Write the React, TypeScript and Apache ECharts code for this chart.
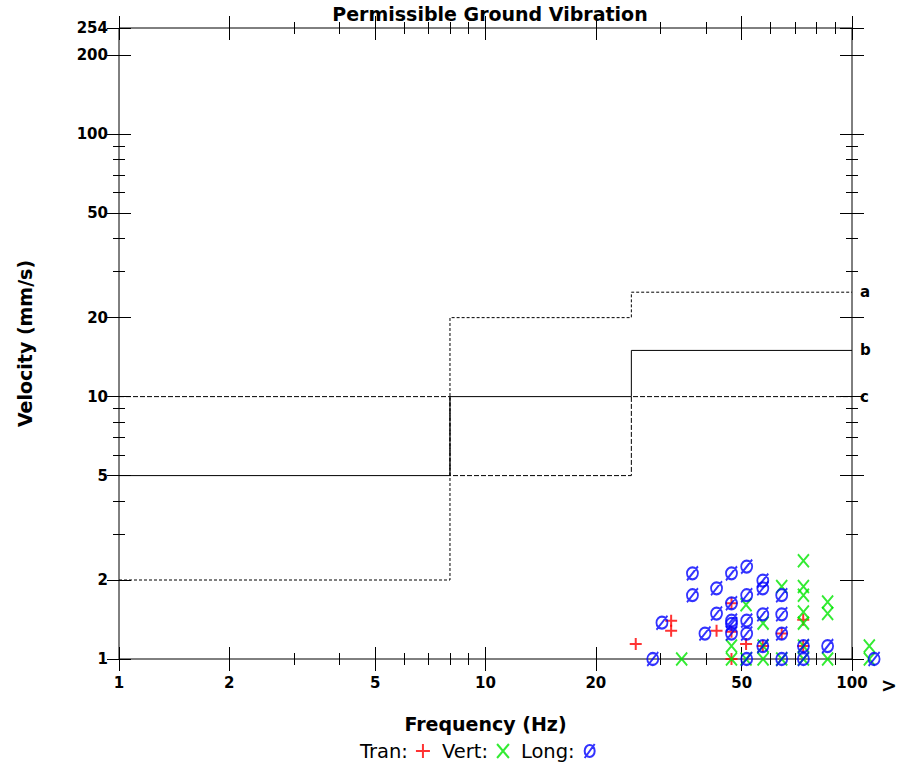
import React, { useEffect, useRef } from 'react';
import * as echarts from 'echarts';

const FONT = '"DejaVu Sans", "Liberation Sans", sans-serif';

const chartTitle = 'Permissible Ground Vibration';
const xName = 'Frequency (Hz)';
const yName = 'Velocity (mm/s)';

const xMajorTicks = [1, 2, 5, 10, 20, 50, 100];
const xMinorTicks = [3, 4, 6, 7, 8, 9, 30, 40, 60, 70, 80, 90];
const yMajorTicks = [1, 2, 5, 10, 20, 50, 100, 200, 254];
const yMinorTicks = [3, 4, 6, 7, 8, 9, 30, 40, 60, 70, 80, 90];

const curveA = [[1, 2], [8, 2], [8, 20], [25, 20], [25, 25], [100, 25]];
const curveB = [[1, 5], [8, 5], [8, 10], [25, 10], [25, 15], [100, 15]];
const curveC = [[1, 10], [8, 10], [8, 5], [25, 5], [25, 10], [100, 10]];
const overflowBand = [[100, 1], [118, 1]];

const tranPoints = [
  [25.7, 1.14], [32.1, 1.4], [32.1, 1.28], [42.7, 1.28], [46.9, 1.63], [46.9, 1.27],
  [46.9, 1.0], [51.4, 1.14], [57.1, 1.12], [64.3, 1.25], [73.6, 1.41], [73.6, 1.12],
];
const vertPoints = [
  [34.3, 1.0], [46.9, 1.12], [46.9, 1.0], [51.4, 1.61], [51.4, 1.0], [57.2, 1.37],
  [57.2, 1.0], [57.2, 1.12], [64.3, 1.89], [64.3, 1.0], [73.7, 2.37], [73.7, 1.89],
  [73.7, 1.75], [73.7, 1.51], [73.7, 1.37], [73.7, 1.12], [73.7, 1.0], [85.8, 1.65],
  [85.8, 1.49], [85.8, 1.0], [111.5, 1.12], [111.5, 1.0],
];
const longPoints = [
  [28.6, 1.0], [30.3, 1.375], [36.7, 2.12], [36.7, 1.75], [39.7, 1.25], [42.7, 1.86],
  [42.7, 1.49], [46.9, 2.12], [46.9, 1.63], [46.9, 1.4], [46.9, 1.36], [46.9, 1.25],
  [51.6, 2.25], [51.6, 1.75], [51.6, 1.4], [51.6, 1.25], [51.6, 1.0], [57.1, 1.99],
  [57.1, 1.86], [57.1, 1.48], [57.1, 1.12], [64.3, 1.75], [64.3, 1.48], [64.3, 1.25],
  [64.3, 1.0], [73.7, 1.12], [73.7, 1.0], [85.8, 1.12], [114.9, 1.0],
];

const PLUS = 'path://M0,6 L12,6 M6,0 L6,12';
const CROSS = 'path://M0,0 L11,13 M11,0 L0,13';
const SLASHO = 'path://M6,1 A5,6 0 1 1 6,13 A5,6 0 1 1 6,1 Z M1,14 L11,0';

const RED = '#ff0000';
const GREEN = '#00e600';
const BLUE = '#0000ff';

const labelStyle = { color: '#000', fontFamily: FONT, fontWeight: 'bold' as const, fontSize: 15 };
const nameStyle = { color: '#000', fontFamily: FONT, fontWeight: 'bold' as const, fontSize: 19 };

function tickAxis(kind: 'x' | 'y', position: string, offset: number, ticks: number[], len: number, extra: any = {}) {
  return {
    type: 'log',
    logBase: 10,
    min: 1,
    max: kind === 'x' ? 100 : 254,
    position,
    offset,
    axisLine: { show: false },
    splitLine: { show: false },
    minorTick: { show: false },
    axisTick: { show: true, customValues: ticks, length: len, inside: false, lineStyle: { color: '#000', width: 1 } },
    axisLabel: { show: false },
    ...extra,
  };
}

export default function App() {
  const ref = useRef<HTMLDivElement>(null);
  useEffect(() => {
    if (!ref.current) return;
    const chart = echarts.init(ref.current, null, { renderer: 'svg' });
    const lineSeries = (name: string, data: number[][], dash: any) => ({
      type: 'line',
      name,
      data,
      symbol: 'none',
      showSymbol: false,
      silent: true,
      lineStyle: { color: '#000', width: 1, type: dash },
      endLabel: { show: true, formatter: name, distance: 8, ...labelStyle },
      z: 2,
    });
    const scatter = (name: string, data: number[][], symbol: string, size: any, color: string) => ({
      type: 'scatter',
      name,
      data,
      symbol,
      symbolSize: size,
      clip: false,
      itemStyle: { color: 'transparent', borderColor: color, borderWidth: 2 },
      z: 3,
    });
    chart.setOption({
      animation: false,
      backgroundColor: '#fff',
      title: {
        text: chartTitle,
        left: 490,
        top: 4,
        padding: 0,
        textAlign: 'center',
        textStyle: nameStyle,
      },
      grid: {
        left: 119, right: 51, top: 28, bottom: 109,
        show: true, borderColor: '#000', borderWidth: 1,
        containLabel: false, outerBoundsMode: 'none',
      },
      legend: {
        left: 360, top: 741, padding: 0,
        align: 'right', itemGap: 11, itemWidth: 20, itemHeight: 14,
        selectedMode: false,
        textStyle: { fontFamily: FONT, fontSize: 19.5, color: '#000' },
        data: [
          { name: 'Tran:', icon: PLUS, itemStyle: { color: 'transparent', borderColor: RED, borderWidth: 2 } },
          { name: 'Vert:', icon: CROSS, itemStyle: { color: 'transparent', borderColor: GREEN, borderWidth: 2 } },
          { name: 'Long:', icon: SLASHO, itemStyle: { color: 'transparent', borderColor: BLUE, borderWidth: 2 } },
        ],
      },
      xAxis: [
        tickAxis('x', 'bottom', -12, xMajorTicks, 24, {
          axisLabel: { show: true, customValues: xMajorTicks, margin: 28, ...labelStyle },
          name: xName, nameLocation: 'middle', nameGap: 67, nameTextStyle: nameStyle,
        }),
        tickAxis('x', 'bottom', -6, xMinorTicks, 12),
        tickAxis('x', 'top', -12, xMajorTicks, 24),
        tickAxis('x', 'top', -6, xMinorTicks, 12),
      ],
      yAxis: [
        tickAxis('y', 'left', -12, yMajorTicks, 24, {
          axisLabel: { show: true, customValues: yMajorTicks, margin: 23, ...labelStyle },
          name: yName, nameLocation: 'middle', nameGap: 97, nameRotate: 90, nameTextStyle: nameStyle,
        }),
        tickAxis('y', 'left', -6, yMinorTicks, 12),
        tickAxis('y', 'right', -12, yMajorTicks, 24),
        tickAxis('y', 'right', -6, yMinorTicks, 12),
      ],
      graphic: [
        { type: 'text', left: 881, top: 675, style: { text: '>', fontSize: 19, fontWeight: 'bold', fontFamily: FONT, fill: '#000' } },
      ],
      series: [
        lineSeries('a', curveA, [3, 2]),
        lineSeries('b', curveB, 'solid'),
        lineSeries('c', curveC, [5, 2]),
        {
          type: 'line', name: 'overflow', data: overflowBand, symbol: 'none', silent: true, clip: false,
          lineStyle: { color: '#000', width: 1 }, z: 2,
        },
        scatter('Tran:', tranPoints, PLUS, 12, RED),
        scatter('Vert:', vertPoints, CROSS, [11, 13], GREEN),
        scatter('Long:', longPoints, SLASHO, [11, 14], BLUE),
      ],
    });
    return () => chart.dispose();
  }, []);
  return <div ref={ref} style={{ position: 'fixed', left: 0, top: 0, width: 903, height: 768 }} />;
}
